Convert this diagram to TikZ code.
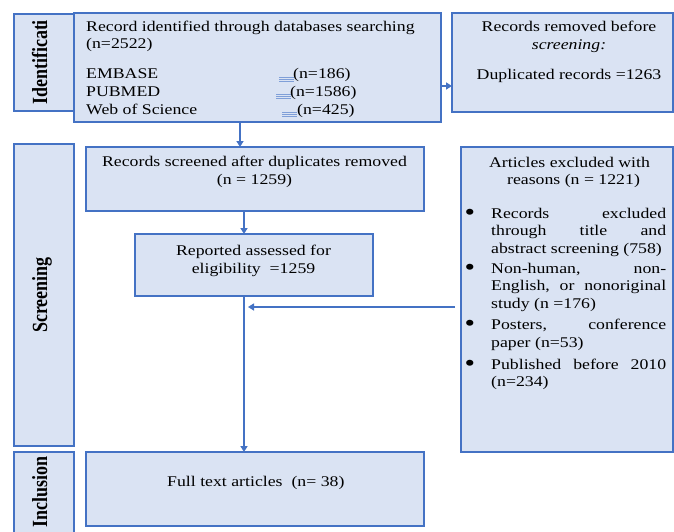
\documentclass[tikz,border=0pt]{standalone}
\usepackage{fontspec}
\setmainfont{Liberation Serif}[FakeStretch=1.2]
\newfontfamily\sidefont{Liberation Serif}
\usetikzlibrary{arrows.meta,calc}
\definecolor{bfill}{HTML}{DAE3F3}
\definecolor{bline}{HTML}{4472C4}
\definecolor{bmark}{HTML}{7F9FD8}
\tikzset{
  box/.style={draw=bline, fill=bfill, line width=1.3pt, anchor=north west, inner sep=0pt, outer sep=0pt},
  arr/.style={draw=bline, line width=1.9pt, -{Triangle[length=6pt,width=7pt]}},
  txt/.style={inner sep=0pt, font=\fontsize{14.8}{17.5}\selectfont},
  side/.style={inner sep=0pt, rotate=90, anchor=base, font=\sidefont\bfseries\fontsize{18}{20}\selectfont},
  tabmark/.style={draw=bmark, line width=0.9pt},
}
\newcommand\tmk[2]{\draw[tabmark] (#1,#2-2) -- ++(15,0) (#1,#2) -- ++(15,0) (#1,#2+2) -- ++(15,0);}
\newcommand\itembox[1]{\vtop{\hsize=175pt\parindent=0pt\leftskip=0pt\noindent\llap{\raisebox{-2pt}{\fontsize{25}{25}\selectfont •}\hspace{16pt}}#1}}
\begin{document}
\begin{tikzpicture}[x=1pt,y=-1pt]
\useasboundingbox (0,0) rectangle (674,532);
% boxes
\node[box, minimum width=60pt, minimum height=97pt] (sid) at (14,14) {};
\node[box, minimum width=367pt, minimum height=109pt] (idb) at (74,13) {};
\node[box, minimum width=221pt, minimum height=99pt] (rem) at (452,13) {};
\node[box, minimum width=60pt, minimum height=302pt] (ssid) at (14,144) {};
\node[box, minimum width=338pt, minimum height=64pt] (scr) at (86,147) {};
\node[box, minimum width=238pt, minimum height=62pt] (ass) at (135,234) {};
\node[box, minimum width=212pt, minimum height=305pt] (exc) at (461,147) {};
\node[box, minimum width=60pt, minimum height=100pt] (isid) at (14,452) {};
\node[box, minimum width=338pt, minimum height=74pt] (full) at (86,452) {};
% side labels
\node[side] (lid) at (47,62.5) {\scalebox{1}[1.2]{Identificati}};
\node[side] (lscr) at (47,295) {\scalebox{1}[1.2]{Screening}};
\node[side] (linc) at (47,492) {\scalebox{1}[1.2]{Inclusion}};
% identification text
\node[txt, anchor=base west] (t1) at (86,31.5) {Record identified through databases searching};
\node[txt, anchor=base west] (t2) at (86,49) {(n=2522)};
\node[txt, anchor=base west] (t3) at (86,79) {EMBASE};
\node[txt, anchor=base west] (t4) at (86,96.5) {PUBMED};
\node[txt, anchor=base west] (t5) at (86,114) {Web of Science};
\node[txt, anchor=base west] (n1) at (293,79) {(n=186)};
\node[txt, anchor=base west] (n2) at (290,96.5) {(n=1586)};
\node[txt, anchor=base west] (n3) at (297,114) {(n=425)};
\tmk{279}{79.5}
\tmk{276}{96}
\tmk{282}{114}
% removed
\node[txt, anchor=base] (r1) at (569,31.5) {Records removed before};
\node[txt, anchor=base] (r2) at (569,49.5) {\textit{screening:}};
\node[txt, anchor=base] (r3) at (569,80) {Duplicated records =1263};
% screened
\node[txt, anchor=base] (s1) at (254.5,166.5) {Records screened after duplicates removed};
\node[txt, anchor=base] (s2) at (254.5,184) {(n = 1259)};
% assessed
\node[txt, anchor=base] (a1) at (253.5,255) {Reported assessed for};
\node[txt, anchor=base] (a2) at (253.5,273) {eligibility \ =1259};
% excluded
\node[txt, anchor=base] (e1) at (569.5,167) {Articles excluded with};
\node[txt, anchor=base] (e2) at (573.5,184.5) {reasons (n = 1221)};
\node[txt, anchor=base west] (b1) at (491,218) {\itembox{Records\hfill excluded\\ through\hfill title\hfill and\\ abstract screening (758)}};
\node[txt, anchor=base west] (b2) at (491,273) {\itembox{Non-human,\hfill non-\\ English,\hfill or\hfill nonoriginal\\ study (n =176)}};
\node[txt, anchor=base west] (b3) at (491,329.5) {\itembox{Posters,\hfill conference\\ paper (n=53)}};
\node[txt, anchor=base west] (b4) at (491,369) {\itembox{Published\hfill before\hfill 2010\\ (n=234)}};
% full text
\node[txt, anchor=base west] (f1) at (167,486.5) {Full text articles \ (n= 38)};
% connectors
\draw[arr] (idb.south -| 240,0) -- (scr.north -| 240,0);
\draw[arr] (scr.south -| 244,0) -- (ass.north -| 244,0);
\draw[arr] (ass.south -| 244,0) -- (full.north -| 244,0);
\draw[arr] (idb.east |- 0,86) -- (rem.west |- 0,86);
\coordinate (join) at (248,307);
\draw[arr] ($(exc.west |- 0,307)+(-6,0)$) -- (join);
\end{tikzpicture}
\end{document}
